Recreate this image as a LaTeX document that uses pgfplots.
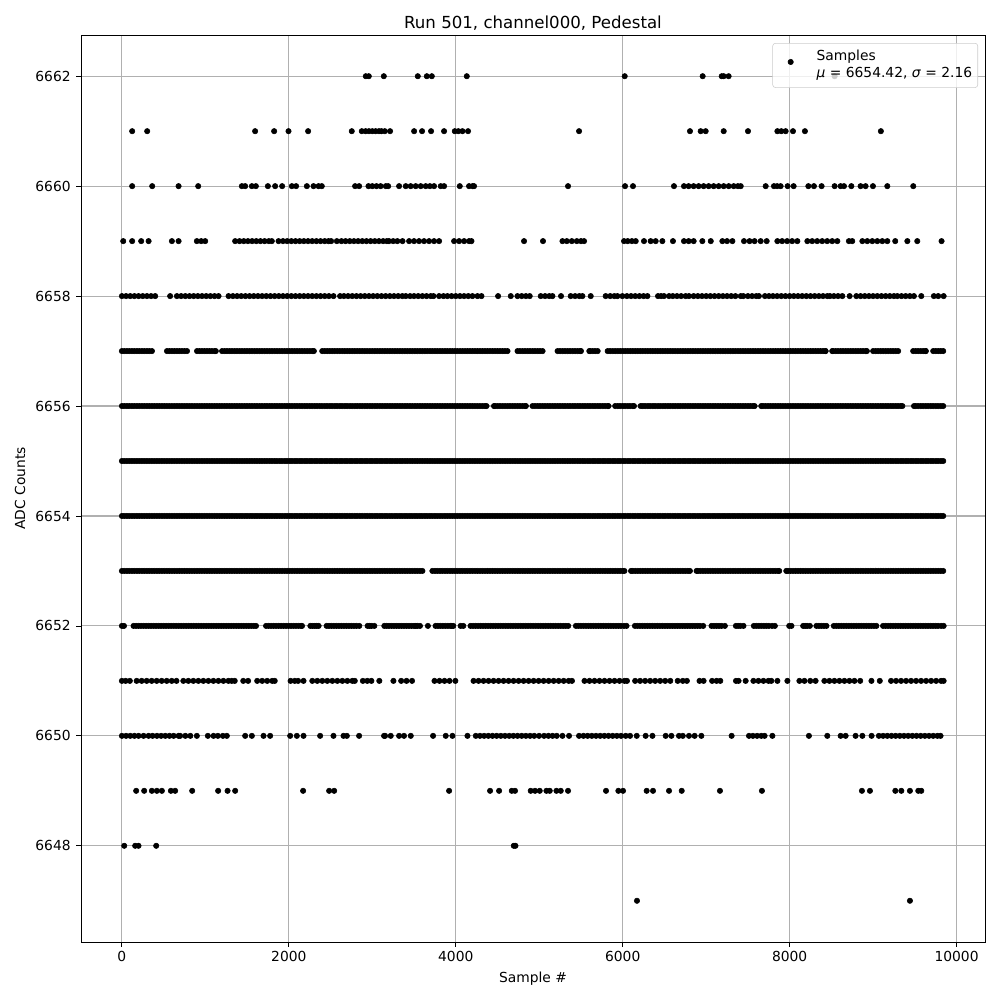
\documentclass[border=0pt]{standalone}
\usepackage{pgfplots}
\pgfplotsset{compat=1.18}
\usepackage{fontspec}
\setmainfont{DejaVu Sans}
\definecolor{gridgray}{HTML}{B0B0B0}
\definecolor{legframe}{HTML}{CCCCCC}
\pgfplotsset{dot/.style={only marks, mark=*, mark size=1.95pt, black, mark options={draw=black, fill=black}, forget plot}}
\begin{document}
\begin{tikzpicture}
\begin{axis}[
  name=ax,
  scale only axis,
  width=653.3pt, height=655.5pt,
  xmin=-490, xmax=10340,
  ymin=6646.25, ymax=6662.75,
  xtick={0,2000,4000,6000,8000,10000},
  ytick={6648,6650,6652,6654,6656,6658,6660,6662},
  scaled ticks=false,
  /pgf/number format/1000 sep={},
  /pgf/number format/assume math mode=true,
  tick align=outside,
  tick pos=left,
  major tick length=3.5pt,
  every tick/.style={black, line width=0.6pt},
  axis line style={black, line width=0.6pt},
  grid=major,
  major grid style={gridgray, line width=0.8pt},
  font=\fontsize{10}{12}\selectfont,
  ticklabel style={font=\fontsize{10}{12}\selectfont},
  xticklabel style={anchor=north, inner sep=0pt, yshift=-3pt},
  yticklabel style={anchor=east, inner sep=0pt, xshift=-3.8pt},
  title={Run 501, channel000, Pedestal},
  title style={font=\fontsize{12}{14}\selectfont, at={(axis description cs:0.5,1.0143)}, anchor=center, yshift=-6.5pt},
  xlabel={Sample \#},
  xlabel style={at={(axis description cs:0.5,-0.0405)}, anchor=center},
  ylabel={ADC Counts},
  ylabel style={at={(axis description cs:-0.0674,0.5)}, anchor=center},
  legend style={at={(axis description cs:1,1)}, anchor=north east, xshift=-5pt, yshift=-5.8pt,
    draw=legframe, rounded corners=2pt, fill=white, fill opacity=0.8, text opacity=1,
    font=\fontsize{10}{12}\selectfont, inner xsep=4pt, inner ysep=4pt, nodes={inner sep=0pt, text depth={}},
    column sep=9.8pt, cells={anchor=west}},
]
\addlegendimage{legend image code/.code={\path[draw=none, fill=none] (0pt,-4pt) rectangle (18pt,4pt); \draw[black, fill=black, fill opacity=1, draw opacity=1, mark=*, mark size=1.95pt, only marks] plot coordinates {(9pt,2.5pt)};}}
\addlegendentry{\begin{tabular}{@{}l@{}}Samples\\\textit{μ} = 6654.42, \textit{σ} = 2.16\end{tabular}}

% 6662
\addplot[dot] coordinates {(2922,6662)(2958,6662)(3138,6662)(3545,6662)(3653,6662)(3713,6662)(4132,6662)(6024,6662)(6958,6662)(7186,6662)(7210,6662)(7269,6662)(8539,6662)};
% 6661
\addplot[dot] coordinates {(123,6661)(303,6661)(1596,6661)(1824,6661)(1996,6661)(2231,6661)(2754,6661)(2874,6661)(2920,6661)(2960,6661)(3000,6661)(3040,6661)(3080,6661)(3110,6661)(3150,6661)(3213,6661)(3501,6661)(3596,6661)(3704,6661)(3860,6661)(3988,6661)(4030,6661)(4080,6661)(4147,6661)(5477,6661)(6806,6661)(6934,6661)(6994,6661)(7210,6661)(7501,6661)(7853,6661)(7900,6661)(7952,6661)(8040,6661)(8183,6661)(9093,6661)};
% 6660
\addplot[dot] coordinates {(123,6660)(363,6660)(679,6660)(914,6660)(1437,6660)(1477,6660)(1557,6660)(1605,6660)(1749,6660)(1836,6660)(1920,6660)(2036,6660)(2087,6660)(2216,6660)(2296,6660)(2356,6660)(2395,6660)(2794,6660)(2842,6660)(2954,6660)(3000,6660)(3050,6660)(3100,6660)(3162,6660)(3190,6660)(3321,6660)(3401,6660)(3460,6660)(3520,6660)(3580,6660)(3640,6660)(3690,6660)(3740,6660)(3820,6660)(3860,6660)(4048,6660)(4159,6660)(4200,6660)(4219,6660)(5345,6660)(6028,6660)(6123,6660)(6614,6660)(6734,6660)(6790,6660)(6850,6660)(6910,6660)(6970,6660)(7030,6660)(7090,6660)(7150,6660)(7210,6660)(7270,6660)(7330,6660)(7380,6660)(7414,6660)(7713,6660)(7812,6660)(7850,6660)(7892,6660)(7976,6660)(8048,6660)(8224,6660)(8291,6660)(8383,6660)(8539,6660)(8611,6660)(8651,6660)(8739,6660)(8850,6660)(8910,6660)(8998,6660)(9170,6660)(9481,6660)};
% 6659
\addplot[dot] coordinates {(16,6659)(123,6659)(231,6659)(320,6659)(599,6659)(679,6659)(898,6659)(950,6659)(998,6659)(1357,6659)(1410,6659)(1460,6659)(1510,6659)(1560,6659)(1610,6659)(1660,6659)(1710,6659)(1760,6659)(1796,6659)(1877,6659)(1930,6659)(1980,6659)(2030,6659)(2080,6659)(2130,6659)(2180,6659)(2230,6659)(2280,6659)(2330,6659)(2380,6659)(2430,6659)(2475,6659)(2507,6659)(2575,6659)(2630,6659)(2680,6659)(2730,6659)(2780,6659)(2830,6659)(2880,6659)(2930,6659)(2980,6659)(3030,6659)(3080,6659)(3130,6659)(3174,6659)(3200,6659)(3250,6659)(3300,6659)(3362,6659)(3441,6659)(3500,6659)(3560,6659)(3620,6659)(3680,6659)(3740,6659)(3800,6659)(3980,6659)(4040,6659)(4100,6659)(4159,6659)(4188,6659)(4818,6659)(5045,6659)(5278,6659)(5330,6659)(5390,6659)(5450,6659)(5500,6659)(5537,6659)(6016,6659)(6060,6659)(6110,6659)(6156,6659)(6255,6659)(6335,6659)(6395,6659)(6475,6659)(6602,6659)(6734,6659)(6790,6659)(6850,6659)(6954,6659)(7055,6659)(7194,6659)(7250,6659)(7314,6659)(7453,6659)(7520,6659)(7580,6659)(7653,6659)(7725,6659)(7853,6659)(7910,6659)(7970,6659)(8030,6659)(8092,6659)(8212,6659)(8270,6659)(8330,6659)(8390,6659)(8450,6659)(8510,6659)(8571,6659)(8710,6659)(8750,6659)(8871,6659)(8930,6659)(8990,6659)(9050,6659)(9110,6659)(9170,6659)(9265,6659)(9410,6659)(9529,6659)(9820,6659)};
% 6658
\addplot[dot] coordinates {(0,6658)(50,6658)(100,6658)(150,6658)(200,6658)(250,6658)(300,6658)(350,6658)(399,6658)(578,6658)(659,6658)(710,6658)(760,6658)(810,6658)(860,6658)(910,6658)(960,6658)(1010,6658)(1060,6658)(1110,6658)(1158,6658)(1278,6658)(1330,6658)(1380,6658)(1430,6658)(1480,6658)(1530,6658)(1580,6658)(1630,6658)(1680,6658)(1730,6658)(1780,6658)(1830,6658)(1880,6658)(1930,6658)(1980,6658)(2030,6658)(2080,6658)(2130,6658)(2180,6658)(2230,6658)(2280,6658)(2330,6658)(2380,6658)(2430,6658)(2480,6658)(2535,6658)(2614,6658)(2660,6658)(2710,6658)(2760,6658)(2810,6658)(2860,6658)(2910,6658)(2960,6658)(3010,6658)(3060,6658)(3110,6658)(3160,6658)(3210,6658)(3260,6658)(3310,6658)(3360,6658)(3401,6658)(3453,6658)(3500,6658)(3550,6658)(3600,6658)(3650,6658)(3700,6658)(3733,6658)(3800,6658)(3853,6658)(3900,6658)(3950,6658)(4000,6658)(4050,6658)(4100,6658)(4150,6658)(4200,6658)(4260,6658)(4308,6658)(4507,6658)(4659,6658)(4739,6658)(4790,6658)(4840,6658)(4886,6658)(5018,6658)(5070,6658)(5120,6658)(5158,6658)(5261,6658)(5377,6658)(5430,6658)(5480,6658)(5517,6658)(5617,6658)(5796,6658)(5850,6658)(5900,6658)(5937,6658)(5996,6658)(6050,6658)(6100,6658)(6150,6658)(6200,6658)(6250,6658)(6296,6658)(6423,6658)(6460,6658)(6495,6658)(6555,6658)(6600,6658)(6650,6658)(6700,6658)(6754,6658)(6794,6658)(6850,6658)(6900,6658)(6950,6658)(7000,6658)(7050,6658)(7100,6658)(7150,6658)(7200,6658)(7250,6658)(7300,6658)(7350,6658)(7414,6658)(7445,6658)(7500,6658)(7550,6658)(7600,6658)(7632,6658)(7704,6658)(7752,6658)(7800,6658)(7850,6658)(7900,6658)(7950,6658)(8000,6658)(8050,6658)(8100,6658)(8150,6658)(8200,6658)(8250,6658)(8300,6658)(8350,6658)(8400,6658)(8451,6658)(8483,6658)(8530,6658)(8580,6658)(8631,6658)(8719,6658)(8799,6658)(8850,6658)(8900,6658)(8950,6658)(9000,6658)(9050,6658)(9100,6658)(9150,6658)(9200,6658)(9249,6658)(9290,6658)(9340,6658)(9390,6658)(9440,6658)(9489,6658)(9577,6658)(9728,6658)(9780,6658)(9845,6658)};
% 6657
\addplot[dot] coordinates {(0,6657)(60,6657)(120,6657)(180,6657)(240,6657)(300,6657)(360,6657)(540,6657)(600,6657)(660,6657)(720,6657)(780,6657)(900,6657)(960,6657)(1020,6657)(1080,6657)(1125,6657)(1200,6657)(1260,6657)(1320,6657)(1380,6657)(1440,6657)(1500,6657)(1560,6657)(1620,6657)(1680,6657)(1740,6657)(1800,6657)(1860,6657)(1920,6657)(1980,6657)(2040,6657)(2100,6657)(2160,6657)(2220,6657)(2280,6657)(2300,6657)(2400,6657)(2460,6657)(2520,6657)(2580,6657)(2640,6657)(2700,6657)(2760,6657)(2820,6657)(2880,6657)(2940,6657)(3000,6657)(3060,6657)(3120,6657)(3180,6657)(3240,6657)(3300,6657)(3360,6657)(3420,6657)(3480,6657)(3540,6657)(3600,6657)(3660,6657)(3720,6657)(3780,6657)(3840,6657)(3900,6657)(3960,6657)(4020,6657)(4080,6657)(4140,6657)(4200,6657)(4260,6657)(4320,6657)(4380,6657)(4440,6657)(4500,6657)(4560,6657)(4620,6657)(4740,6657)(4800,6657)(4860,6657)(4920,6657)(4980,6657)(5040,6657)(5220,6657)(5280,6657)(5340,6657)(5400,6657)(5460,6657)(5500,6657)(5600,6657)(5640,6657)(5700,6657)(5820,6657)(5880,6657)(5940,6657)(6000,6657)(6060,6657)(6120,6657)(6180,6657)(6240,6657)(6300,6657)(6360,6657)(6420,6657)(6480,6657)(6540,6657)(6600,6657)(6660,6657)(6720,6657)(6780,6657)(6840,6657)(6900,6657)(6960,6657)(7020,6657)(7080,6657)(7140,6657)(7200,6657)(7260,6657)(7320,6657)(7380,6657)(7440,6657)(7500,6657)(7560,6657)(7620,6657)(7680,6657)(7740,6657)(7800,6657)(7860,6657)(7920,6657)(7980,6657)(8040,6657)(8100,6657)(8160,6657)(8220,6657)(8280,6657)(8340,6657)(8400,6657)(8430,6657)(8510,6657)(8520,6657)(8580,6657)(8640,6657)(8700,6657)(8760,6657)(8820,6657)(8880,6657)(8925,6657)(9000,6657)(9060,6657)(9120,6657)(9180,6657)(9240,6657)(9300,6657)(9480,6657)(9540,6657)(9600,6657)(9630,6657)(9720,6657)(9780,6657)(9840,6657)};
\addplot[dot] coordinates {(30,6657)(90,6657)(150,6657)(210,6657)(270,6657)(330,6657)(570,6657)(630,6657)(690,6657)(750,6657)(930,6657)(990,6657)(1050,6657)(1110,6657)(1230,6657)(1290,6657)(1350,6657)(1410,6657)(1470,6657)(1530,6657)(1590,6657)(1650,6657)(1710,6657)(1770,6657)(1830,6657)(1890,6657)(1950,6657)(2010,6657)(2070,6657)(2130,6657)(2190,6657)(2250,6657)(2430,6657)(2490,6657)(2550,6657)(2610,6657)(2670,6657)(2730,6657)(2790,6657)(2850,6657)(2910,6657)(2970,6657)(3030,6657)(3090,6657)(3150,6657)(3210,6657)(3270,6657)(3330,6657)(3390,6657)(3450,6657)(3510,6657)(3570,6657)(3630,6657)(3690,6657)(3750,6657)(3810,6657)(3870,6657)(3930,6657)(3990,6657)(4050,6657)(4110,6657)(4170,6657)(4230,6657)(4290,6657)(4350,6657)(4410,6657)(4470,6657)(4530,6657)(4590,6657)(4770,6657)(4830,6657)(4890,6657)(4950,6657)(5010,6657)(5250,6657)(5310,6657)(5370,6657)(5430,6657)(5490,6657)(5610,6657)(5670,6657)(5850,6657)(5910,6657)(5970,6657)(6030,6657)(6090,6657)(6150,6657)(6210,6657)(6270,6657)(6330,6657)(6390,6657)(6450,6657)(6510,6657)(6570,6657)(6630,6657)(6690,6657)(6750,6657)(6810,6657)(6870,6657)(6930,6657)(6990,6657)(7050,6657)(7110,6657)(7170,6657)(7230,6657)(7290,6657)(7350,6657)(7410,6657)(7470,6657)(7530,6657)(7590,6657)(7650,6657)(7710,6657)(7770,6657)(7830,6657)(7890,6657)(7950,6657)(8010,6657)(8070,6657)(8130,6657)(8190,6657)(8250,6657)(8310,6657)(8370,6657)(8430,6657)(8550,6657)(8610,6657)(8670,6657)(8730,6657)(8790,6657)(8850,6657)(8910,6657)(9030,6657)(9090,6657)(9150,6657)(9210,6657)(9270,6657)(9510,6657)(9570,6657)(9630,6657)(9750,6657)(9810,6657)};
% 6656
\addplot[dot] coordinates {(0,6656)(60,6656)(120,6656)(180,6656)(240,6656)(300,6656)(360,6656)(420,6656)(480,6656)(540,6656)(600,6656)(660,6656)(720,6656)(780,6656)(840,6656)(900,6656)(960,6656)(1020,6656)(1080,6656)(1140,6656)(1200,6656)(1260,6656)(1320,6656)(1380,6656)(1440,6656)(1500,6656)(1560,6656)(1620,6656)(1680,6656)(1740,6656)(1800,6656)(1860,6656)(1920,6656)(1980,6656)(2040,6656)(2100,6656)(2160,6656)(2220,6656)(2280,6656)(2340,6656)(2400,6656)(2460,6656)(2520,6656)(2580,6656)(2640,6656)(2700,6656)(2760,6656)(2820,6656)(2880,6656)(2940,6656)(3000,6656)(3060,6656)(3120,6656)(3180,6656)(3240,6656)(3300,6656)(3360,6656)(3420,6656)(3480,6656)(3540,6656)(3600,6656)(3660,6656)(3720,6656)(3780,6656)(3840,6656)(3900,6656)(3960,6656)(4020,6656)(4080,6656)(4140,6656)(4200,6656)(4260,6656)(4320,6656)(4368,6656)(4458,6656)(4500,6656)(4560,6656)(4620,6656)(4680,6656)(4740,6656)(4800,6656)(4840,6656)(4920,6656)(4980,6656)(5040,6656)(5100,6656)(5160,6656)(5220,6656)(5280,6656)(5340,6656)(5400,6656)(5460,6656)(5520,6656)(5580,6656)(5640,6656)(5700,6656)(5760,6656)(5820,6656)(5830,6656)(5910,6656)(5940,6656)(6000,6656)(6060,6656)(6120,6656)(6135,6656)(6215,6656)(6240,6656)(6300,6656)(6360,6656)(6420,6656)(6480,6656)(6540,6656)(6600,6656)(6660,6656)(6720,6656)(6780,6656)(6840,6656)(6900,6656)(6960,6656)(7020,6656)(7080,6656)(7140,6656)(7200,6656)(7260,6656)(7320,6656)(7380,6656)(7440,6656)(7500,6656)(7560,6656)(7580,6656)(7660,6656)(7680,6656)(7740,6656)(7800,6656)(7860,6656)(7920,6656)(7980,6656)(8040,6656)(8100,6656)(8160,6656)(8220,6656)(8280,6656)(8340,6656)(8400,6656)(8460,6656)(8520,6656)(8580,6656)(8640,6656)(8700,6656)(8760,6656)(8820,6656)(8880,6656)(8940,6656)(9000,6656)(9060,6656)(9120,6656)(9180,6656)(9240,6656)(9300,6656)(9350,6656)(9490,6656)(9540,6656)(9600,6656)(9660,6656)(9720,6656)(9780,6656)(9840,6656)};
\addplot[dot] coordinates {(30,6656)(90,6656)(150,6656)(210,6656)(270,6656)(330,6656)(390,6656)(450,6656)(510,6656)(570,6656)(630,6656)(690,6656)(750,6656)(810,6656)(870,6656)(930,6656)(990,6656)(1050,6656)(1110,6656)(1170,6656)(1230,6656)(1290,6656)(1350,6656)(1410,6656)(1470,6656)(1530,6656)(1590,6656)(1650,6656)(1710,6656)(1770,6656)(1830,6656)(1890,6656)(1950,6656)(2010,6656)(2070,6656)(2130,6656)(2190,6656)(2250,6656)(2310,6656)(2370,6656)(2430,6656)(2490,6656)(2550,6656)(2610,6656)(2670,6656)(2730,6656)(2790,6656)(2850,6656)(2910,6656)(2970,6656)(3030,6656)(3090,6656)(3150,6656)(3210,6656)(3270,6656)(3330,6656)(3390,6656)(3450,6656)(3510,6656)(3570,6656)(3630,6656)(3690,6656)(3750,6656)(3810,6656)(3870,6656)(3930,6656)(3990,6656)(4050,6656)(4110,6656)(4170,6656)(4230,6656)(4290,6656)(4350,6656)(4470,6656)(4530,6656)(4590,6656)(4650,6656)(4710,6656)(4770,6656)(4830,6656)(4950,6656)(5010,6656)(5070,6656)(5130,6656)(5190,6656)(5250,6656)(5310,6656)(5370,6656)(5430,6656)(5490,6656)(5550,6656)(5610,6656)(5670,6656)(5730,6656)(5790,6656)(5970,6656)(6030,6656)(6090,6656)(6270,6656)(6330,6656)(6390,6656)(6450,6656)(6510,6656)(6570,6656)(6630,6656)(6690,6656)(6750,6656)(6810,6656)(6870,6656)(6930,6656)(6990,6656)(7050,6656)(7110,6656)(7170,6656)(7230,6656)(7290,6656)(7350,6656)(7410,6656)(7470,6656)(7530,6656)(7710,6656)(7770,6656)(7830,6656)(7890,6656)(7950,6656)(8010,6656)(8070,6656)(8130,6656)(8190,6656)(8250,6656)(8310,6656)(8370,6656)(8430,6656)(8490,6656)(8550,6656)(8610,6656)(8670,6656)(8730,6656)(8790,6656)(8850,6656)(8910,6656)(8970,6656)(9030,6656)(9090,6656)(9150,6656)(9210,6656)(9270,6656)(9330,6656)(9510,6656)(9570,6656)(9630,6656)(9690,6656)(9750,6656)(9810,6656)};
% 6655
\addplot[dot] coordinates {(0,6655)(60,6655)(120,6655)(180,6655)(240,6655)(300,6655)(360,6655)(420,6655)(480,6655)(540,6655)(600,6655)(660,6655)(720,6655)(780,6655)(840,6655)(900,6655)(960,6655)(1020,6655)(1080,6655)(1140,6655)(1200,6655)(1260,6655)(1320,6655)(1380,6655)(1440,6655)(1500,6655)(1560,6655)(1620,6655)(1680,6655)(1740,6655)(1800,6655)(1860,6655)(1920,6655)(1980,6655)(2040,6655)(2100,6655)(2160,6655)(2220,6655)(2280,6655)(2340,6655)(2400,6655)(2460,6655)(2520,6655)(2580,6655)(2640,6655)(2700,6655)(2760,6655)(2820,6655)(2880,6655)(2940,6655)(3000,6655)(3060,6655)(3120,6655)(3180,6655)(3240,6655)(3300,6655)(3360,6655)(3420,6655)(3480,6655)(3540,6655)(3600,6655)(3660,6655)(3720,6655)(3780,6655)(3840,6655)(3900,6655)(3960,6655)(4020,6655)(4080,6655)(4140,6655)(4200,6655)(4260,6655)(4320,6655)(4380,6655)(4440,6655)(4500,6655)(4560,6655)(4620,6655)(4680,6655)(4740,6655)(4800,6655)(4860,6655)(4920,6655)(4980,6655)(5040,6655)(5100,6655)(5160,6655)(5220,6655)(5280,6655)(5340,6655)(5400,6655)(5460,6655)(5520,6655)(5580,6655)(5640,6655)(5700,6655)(5760,6655)(5820,6655)(5880,6655)(5940,6655)(6000,6655)(6060,6655)(6120,6655)(6180,6655)(6240,6655)(6300,6655)(6360,6655)(6420,6655)(6480,6655)(6540,6655)(6600,6655)(6660,6655)(6720,6655)(6780,6655)(6840,6655)(6900,6655)(6960,6655)(7020,6655)(7080,6655)(7140,6655)(7200,6655)(7260,6655)(7320,6655)(7380,6655)(7440,6655)(7500,6655)(7560,6655)(7620,6655)(7680,6655)(7740,6655)(7800,6655)(7860,6655)(7920,6655)(7980,6655)(8040,6655)(8100,6655)(8160,6655)(8220,6655)(8280,6655)(8340,6655)(8400,6655)(8460,6655)(8520,6655)(8580,6655)(8640,6655)(8700,6655)(8760,6655)(8820,6655)(8880,6655)(8940,6655)(9000,6655)(9060,6655)(9120,6655)(9180,6655)(9240,6655)(9300,6655)(9360,6655)(9420,6655)(9480,6655)(9540,6655)(9600,6655)(9660,6655)(9720,6655)(9780,6655)(9840,6655)};
\addplot[dot] coordinates {(30,6655)(90,6655)(150,6655)(210,6655)(270,6655)(330,6655)(390,6655)(450,6655)(510,6655)(570,6655)(630,6655)(690,6655)(750,6655)(810,6655)(870,6655)(930,6655)(990,6655)(1050,6655)(1110,6655)(1170,6655)(1230,6655)(1290,6655)(1350,6655)(1410,6655)(1470,6655)(1530,6655)(1590,6655)(1650,6655)(1710,6655)(1770,6655)(1830,6655)(1890,6655)(1950,6655)(2010,6655)(2070,6655)(2130,6655)(2190,6655)(2250,6655)(2310,6655)(2370,6655)(2430,6655)(2490,6655)(2550,6655)(2610,6655)(2670,6655)(2730,6655)(2790,6655)(2850,6655)(2910,6655)(2970,6655)(3030,6655)(3090,6655)(3150,6655)(3210,6655)(3270,6655)(3330,6655)(3390,6655)(3450,6655)(3510,6655)(3570,6655)(3630,6655)(3690,6655)(3750,6655)(3810,6655)(3870,6655)(3930,6655)(3990,6655)(4050,6655)(4110,6655)(4170,6655)(4230,6655)(4290,6655)(4350,6655)(4410,6655)(4470,6655)(4530,6655)(4590,6655)(4650,6655)(4710,6655)(4770,6655)(4830,6655)(4890,6655)(4950,6655)(5010,6655)(5070,6655)(5130,6655)(5190,6655)(5250,6655)(5310,6655)(5370,6655)(5430,6655)(5490,6655)(5550,6655)(5610,6655)(5670,6655)(5730,6655)(5790,6655)(5850,6655)(5910,6655)(5970,6655)(6030,6655)(6090,6655)(6150,6655)(6210,6655)(6270,6655)(6330,6655)(6390,6655)(6450,6655)(6510,6655)(6570,6655)(6630,6655)(6690,6655)(6750,6655)(6810,6655)(6870,6655)(6930,6655)(6990,6655)(7050,6655)(7110,6655)(7170,6655)(7230,6655)(7290,6655)(7350,6655)(7410,6655)(7470,6655)(7530,6655)(7590,6655)(7650,6655)(7710,6655)(7770,6655)(7830,6655)(7890,6655)(7950,6655)(8010,6655)(8070,6655)(8130,6655)(8190,6655)(8250,6655)(8310,6655)(8370,6655)(8430,6655)(8490,6655)(8550,6655)(8610,6655)(8670,6655)(8730,6655)(8790,6655)(8850,6655)(8910,6655)(8970,6655)(9030,6655)(9090,6655)(9150,6655)(9210,6655)(9270,6655)(9330,6655)(9390,6655)(9450,6655)(9510,6655)(9570,6655)(9630,6655)(9690,6655)(9750,6655)(9810,6655)};
% 6654
\addplot[dot] coordinates {(0,6654)(60,6654)(120,6654)(180,6654)(240,6654)(300,6654)(360,6654)(420,6654)(480,6654)(540,6654)(600,6654)(660,6654)(720,6654)(780,6654)(840,6654)(900,6654)(960,6654)(1020,6654)(1080,6654)(1140,6654)(1200,6654)(1260,6654)(1320,6654)(1380,6654)(1440,6654)(1500,6654)(1560,6654)(1620,6654)(1680,6654)(1740,6654)(1800,6654)(1860,6654)(1920,6654)(1980,6654)(2040,6654)(2100,6654)(2160,6654)(2220,6654)(2280,6654)(2340,6654)(2400,6654)(2460,6654)(2520,6654)(2580,6654)(2640,6654)(2700,6654)(2760,6654)(2820,6654)(2880,6654)(2940,6654)(3000,6654)(3060,6654)(3120,6654)(3180,6654)(3240,6654)(3300,6654)(3360,6654)(3420,6654)(3480,6654)(3540,6654)(3600,6654)(3660,6654)(3720,6654)(3780,6654)(3840,6654)(3900,6654)(3960,6654)(4020,6654)(4080,6654)(4140,6654)(4200,6654)(4260,6654)(4320,6654)(4380,6654)(4440,6654)(4500,6654)(4560,6654)(4620,6654)(4680,6654)(4740,6654)(4800,6654)(4860,6654)(4920,6654)(4980,6654)(5040,6654)(5100,6654)(5160,6654)(5220,6654)(5280,6654)(5340,6654)(5400,6654)(5460,6654)(5520,6654)(5580,6654)(5640,6654)(5700,6654)(5760,6654)(5820,6654)(5880,6654)(5940,6654)(6000,6654)(6060,6654)(6120,6654)(6180,6654)(6240,6654)(6300,6654)(6360,6654)(6420,6654)(6480,6654)(6540,6654)(6600,6654)(6660,6654)(6720,6654)(6780,6654)(6840,6654)(6900,6654)(6960,6654)(7020,6654)(7080,6654)(7140,6654)(7200,6654)(7260,6654)(7320,6654)(7380,6654)(7440,6654)(7500,6654)(7560,6654)(7620,6654)(7680,6654)(7740,6654)(7800,6654)(7860,6654)(7920,6654)(7980,6654)(8040,6654)(8100,6654)(8160,6654)(8220,6654)(8280,6654)(8340,6654)(8400,6654)(8460,6654)(8520,6654)(8580,6654)(8640,6654)(8700,6654)(8760,6654)(8820,6654)(8880,6654)(8940,6654)(9000,6654)(9060,6654)(9120,6654)(9180,6654)(9240,6654)(9300,6654)(9360,6654)(9420,6654)(9480,6654)(9540,6654)(9600,6654)(9660,6654)(9720,6654)(9780,6654)(9840,6654)};
\addplot[dot] coordinates {(30,6654)(90,6654)(150,6654)(210,6654)(270,6654)(330,6654)(390,6654)(450,6654)(510,6654)(570,6654)(630,6654)(690,6654)(750,6654)(810,6654)(870,6654)(930,6654)(990,6654)(1050,6654)(1110,6654)(1170,6654)(1230,6654)(1290,6654)(1350,6654)(1410,6654)(1470,6654)(1530,6654)(1590,6654)(1650,6654)(1710,6654)(1770,6654)(1830,6654)(1890,6654)(1950,6654)(2010,6654)(2070,6654)(2130,6654)(2190,6654)(2250,6654)(2310,6654)(2370,6654)(2430,6654)(2490,6654)(2550,6654)(2610,6654)(2670,6654)(2730,6654)(2790,6654)(2850,6654)(2910,6654)(2970,6654)(3030,6654)(3090,6654)(3150,6654)(3210,6654)(3270,6654)(3330,6654)(3390,6654)(3450,6654)(3510,6654)(3570,6654)(3630,6654)(3690,6654)(3750,6654)(3810,6654)(3870,6654)(3930,6654)(3990,6654)(4050,6654)(4110,6654)(4170,6654)(4230,6654)(4290,6654)(4350,6654)(4410,6654)(4470,6654)(4530,6654)(4590,6654)(4650,6654)(4710,6654)(4770,6654)(4830,6654)(4890,6654)(4950,6654)(5010,6654)(5070,6654)(5130,6654)(5190,6654)(5250,6654)(5310,6654)(5370,6654)(5430,6654)(5490,6654)(5550,6654)(5610,6654)(5670,6654)(5730,6654)(5790,6654)(5850,6654)(5910,6654)(5970,6654)(6030,6654)(6090,6654)(6150,6654)(6210,6654)(6270,6654)(6330,6654)(6390,6654)(6450,6654)(6510,6654)(6570,6654)(6630,6654)(6690,6654)(6750,6654)(6810,6654)(6870,6654)(6930,6654)(6990,6654)(7050,6654)(7110,6654)(7170,6654)(7230,6654)(7290,6654)(7350,6654)(7410,6654)(7470,6654)(7530,6654)(7590,6654)(7650,6654)(7710,6654)(7770,6654)(7830,6654)(7890,6654)(7950,6654)(8010,6654)(8070,6654)(8130,6654)(8190,6654)(8250,6654)(8310,6654)(8370,6654)(8430,6654)(8490,6654)(8550,6654)(8610,6654)(8670,6654)(8730,6654)(8790,6654)(8850,6654)(8910,6654)(8970,6654)(9030,6654)(9090,6654)(9150,6654)(9210,6654)(9270,6654)(9330,6654)(9390,6654)(9450,6654)(9510,6654)(9570,6654)(9630,6654)(9690,6654)(9750,6654)(9810,6654)};
% 6653
\addplot[dot] coordinates {(0,6653)(60,6653)(120,6653)(180,6653)(240,6653)(300,6653)(360,6653)(420,6653)(480,6653)(540,6653)(600,6653)(660,6653)(720,6653)(780,6653)(840,6653)(900,6653)(960,6653)(1020,6653)(1080,6653)(1140,6653)(1200,6653)(1260,6653)(1320,6653)(1380,6653)(1440,6653)(1500,6653)(1560,6653)(1620,6653)(1680,6653)(1740,6653)(1800,6653)(1860,6653)(1920,6653)(1980,6653)(2040,6653)(2100,6653)(2160,6653)(2220,6653)(2280,6653)(2340,6653)(2400,6653)(2460,6653)(2520,6653)(2580,6653)(2640,6653)(2700,6653)(2760,6653)(2820,6653)(2880,6653)(2940,6653)(3000,6653)(3060,6653)(3120,6653)(3180,6653)(3240,6653)(3300,6653)(3360,6653)(3420,6653)(3480,6653)(3540,6653)(3600,6653)(3720,6653)(3780,6653)(3840,6653)(3900,6653)(3960,6653)(4020,6653)(4080,6653)(4140,6653)(4200,6653)(4260,6653)(4320,6653)(4380,6653)(4440,6653)(4500,6653)(4560,6653)(4620,6653)(4680,6653)(4740,6653)(4800,6653)(4860,6653)(4920,6653)(4980,6653)(5040,6653)(5100,6653)(5160,6653)(5220,6653)(5280,6653)(5340,6653)(5400,6653)(5460,6653)(5520,6653)(5580,6653)(5640,6653)(5700,6653)(5760,6653)(5820,6653)(5880,6653)(5940,6653)(6000,6653)(6020,6653)(6100,6653)(6120,6653)(6180,6653)(6240,6653)(6300,6653)(6360,6653)(6420,6653)(6480,6653)(6540,6653)(6600,6653)(6660,6653)(6720,6653)(6780,6653)(6805,6653)(6885,6653)(6900,6653)(6960,6653)(7020,6653)(7080,6653)(7140,6653)(7200,6653)(7260,6653)(7320,6653)(7380,6653)(7440,6653)(7500,6653)(7560,6653)(7620,6653)(7680,6653)(7740,6653)(7800,6653)(7860,6653)(7875,6653)(7960,6653)(7980,6653)(8040,6653)(8100,6653)(8160,6653)(8220,6653)(8280,6653)(8340,6653)(8400,6653)(8460,6653)(8520,6653)(8580,6653)(8640,6653)(8700,6653)(8760,6653)(8820,6653)(8880,6653)(8940,6653)(9000,6653)(9060,6653)(9120,6653)(9180,6653)(9240,6653)(9300,6653)(9360,6653)(9420,6653)(9480,6653)(9540,6653)(9600,6653)(9660,6653)(9720,6653)(9780,6653)(9840,6653)};
\addplot[dot] coordinates {(30,6653)(90,6653)(150,6653)(210,6653)(270,6653)(330,6653)(390,6653)(450,6653)(510,6653)(570,6653)(630,6653)(690,6653)(750,6653)(810,6653)(870,6653)(930,6653)(990,6653)(1050,6653)(1110,6653)(1170,6653)(1230,6653)(1290,6653)(1350,6653)(1410,6653)(1470,6653)(1530,6653)(1590,6653)(1650,6653)(1710,6653)(1770,6653)(1830,6653)(1890,6653)(1950,6653)(2010,6653)(2070,6653)(2130,6653)(2190,6653)(2250,6653)(2310,6653)(2370,6653)(2430,6653)(2490,6653)(2550,6653)(2610,6653)(2670,6653)(2730,6653)(2790,6653)(2850,6653)(2910,6653)(2970,6653)(3030,6653)(3090,6653)(3150,6653)(3210,6653)(3270,6653)(3330,6653)(3390,6653)(3450,6653)(3510,6653)(3570,6653)(3750,6653)(3810,6653)(3870,6653)(3930,6653)(3990,6653)(4050,6653)(4110,6653)(4170,6653)(4230,6653)(4290,6653)(4350,6653)(4410,6653)(4470,6653)(4530,6653)(4590,6653)(4650,6653)(4710,6653)(4770,6653)(4830,6653)(4890,6653)(4950,6653)(5010,6653)(5070,6653)(5130,6653)(5190,6653)(5250,6653)(5310,6653)(5370,6653)(5430,6653)(5490,6653)(5550,6653)(5610,6653)(5670,6653)(5730,6653)(5790,6653)(5850,6653)(5910,6653)(5970,6653)(6150,6653)(6210,6653)(6270,6653)(6330,6653)(6390,6653)(6450,6653)(6510,6653)(6570,6653)(6630,6653)(6690,6653)(6750,6653)(6930,6653)(6990,6653)(7050,6653)(7110,6653)(7170,6653)(7230,6653)(7290,6653)(7350,6653)(7410,6653)(7470,6653)(7530,6653)(7590,6653)(7650,6653)(7710,6653)(7770,6653)(7830,6653)(8010,6653)(8070,6653)(8130,6653)(8190,6653)(8250,6653)(8310,6653)(8370,6653)(8430,6653)(8490,6653)(8550,6653)(8610,6653)(8670,6653)(8730,6653)(8790,6653)(8850,6653)(8910,6653)(8970,6653)(9030,6653)(9090,6653)(9150,6653)(9210,6653)(9270,6653)(9330,6653)(9390,6653)(9450,6653)(9510,6653)(9570,6653)(9630,6653)(9690,6653)(9750,6653)(9810,6653)};
% 6652
\addplot[dot] coordinates {(0,6652)(25,6652)(140,6652)(200,6652)(260,6652)(320,6652)(380,6652)(440,6652)(500,6652)(560,6652)(620,6652)(680,6652)(740,6652)(800,6652)(860,6652)(920,6652)(980,6652)(1040,6652)(1100,6652)(1160,6652)(1220,6652)(1280,6652)(1340,6652)(1400,6652)(1460,6652)(1520,6652)(1580,6652)(1607,6652)(1727,6652)(1787,6652)(1847,6652)(1907,6652)(1967,6652)(2027,6652)(2087,6652)(2147,6652)(2158,6652)(2258,6652)(2310,6652)(2357,6652)(2453,6652)(2510,6652)(2570,6652)(2630,6652)(2690,6652)(2750,6652)(2810,6652)(2844,6652)(2944,6652)(2990,6652)(3024,6652)(3144,6652)(3200,6652)(3260,6652)(3320,6652)(3380,6652)(3440,6652)(3500,6652)(3540,6652)(3571,6652)(3666,6652)(3758,6652)(3815,6652)(3875,6652)(3935,6652)(3970,6652)(4058,6652)(4090,6652)(4177,6652)(4237,6652)(4297,6652)(4357,6652)(4417,6652)(4477,6652)(4537,6652)(4597,6652)(4657,6652)(4717,6652)(4777,6652)(4837,6652)(4897,6652)(4957,6652)(5017,6652)(5077,6652)(5137,6652)(5197,6652)(5257,6652)(5317,6652)(5347,6652)(5439,6652)(5499,6652)(5559,6652)(5619,6652)(5679,6652)(5739,6652)(5799,6652)(5859,6652)(5919,6652)(5979,6652)(6015,6652)(6046,6652)(6146,6652)(6206,6652)(6266,6652)(6326,6652)(6386,6652)(6446,6652)(6506,6652)(6566,6652)(6626,6652)(6686,6652)(6746,6652)(6806,6652)(6866,6652)(6926,6652)(6964,6652)(7064,6652)(7124,6652)(7184,6652)(7224,6652)(7356,6652)(7410,6652)(7447,6652)(7571,6652)(7631,6652)(7691,6652)(7751,6652)(7790,6652)(7823,6652)(7995,6652)(8022,6652)(8162,6652)(8210,6652)(8242,6652)(8321,6652)(8380,6652)(8441,6652)(8529,6652)(8589,6652)(8649,6652)(8709,6652)(8769,6652)(8829,6652)(8889,6652)(8949,6652)(9009,6652)(9039,6652)(9119,6652)(9179,6652)(9239,6652)(9299,6652)(9359,6652)(9419,6652)(9479,6652)(9539,6652)(9599,6652)(9659,6652)(9719,6652)(9779,6652)(9815,6652)(9845,6652)};
\addplot[dot] coordinates {(170,6652)(230,6652)(290,6652)(350,6652)(410,6652)(470,6652)(530,6652)(590,6652)(650,6652)(710,6652)(770,6652)(830,6652)(890,6652)(950,6652)(1010,6652)(1070,6652)(1130,6652)(1190,6652)(1250,6652)(1310,6652)(1370,6652)(1430,6652)(1490,6652)(1550,6652)(1757,6652)(1817,6652)(1877,6652)(1937,6652)(1997,6652)(2057,6652)(2117,6652)(2284,6652)(2333,6652)(2481,6652)(2540,6652)(2600,6652)(2660,6652)(2720,6652)(2780,6652)(2967,6652)(3172,6652)(3230,6652)(3290,6652)(3350,6652)(3410,6652)(3470,6652)(3520,6652)(3786,6652)(3845,6652)(3905,6652)(3952,6652)(4207,6652)(4267,6652)(4327,6652)(4387,6652)(4447,6652)(4507,6652)(4567,6652)(4627,6652)(4687,6652)(4747,6652)(4807,6652)(4867,6652)(4927,6652)(4987,6652)(5047,6652)(5107,6652)(5167,6652)(5227,6652)(5287,6652)(5469,6652)(5529,6652)(5589,6652)(5649,6652)(5709,6652)(5769,6652)(5829,6652)(5889,6652)(5949,6652)(6176,6652)(6236,6652)(6296,6652)(6356,6652)(6416,6652)(6476,6652)(6536,6652)(6596,6652)(6656,6652)(6716,6652)(6776,6652)(6836,6652)(6896,6652)(7094,6652)(7154,6652)(7383,6652)(7601,6652)(7661,6652)(7721,6652)(8186,6652)(8350,6652)(8410,6652)(8559,6652)(8619,6652)(8679,6652)(8739,6652)(8799,6652)(8859,6652)(8919,6652)(8979,6652)(9149,6652)(9209,6652)(9269,6652)(9329,6652)(9389,6652)(9449,6652)(9509,6652)(9569,6652)(9629,6652)(9689,6652)(9749,6652)};
% 6651
\addplot[dot] coordinates {(0,6651)(45,6651)(95,6651)(177,6651)(237,6651)(297,6651)(357,6651)(417,6651)(477,6651)(537,6651)(597,6651)(654,6651)(736,6651)(796,6651)(856,6651)(916,6651)(976,6651)(1036,6651)(1096,6651)(1156,6651)(1216,6651)(1276,6651)(1316,6651)(1352,6651)(1454,6651)(1512,6651)(1621,6651)(1681,6651)(1741,6651)(1801,6651)(1831,6651)(2021,6651)(2071,6651)(2111,6651)(2176,6651)(2281,6651)(2341,6651)(2401,6651)(2461,6651)(2521,6651)(2581,6651)(2641,6651)(2701,6651)(2761,6651)(2790,6651)(2887,6651)(2940,6651)(2989,6651)(3084,6651)(3253,6651)(3346,6651)(3410,6651)(3476,6651)(3745,6651)(3805,6651)(3865,6651)(3925,6651)(3995,6651)(4213,6651)(4273,6651)(4333,6651)(4393,6651)(4453,6651)(4513,6651)(4573,6651)(4633,6651)(4693,6651)(4753,6651)(4813,6651)(4873,6651)(4933,6651)(4993,6651)(5053,6651)(5113,6651)(5173,6651)(5233,6651)(5293,6651)(5353,6651)(5392,6651)(5542,6651)(5602,6651)(5662,6651)(5722,6651)(5782,6651)(5842,6651)(5902,6651)(5962,6651)(6022,6651)(6051,6651)(6149,6651)(6209,6651)(6269,6651)(6329,6651)(6389,6651)(6449,6651)(6509,6651)(6570,6651)(6659,6651)(6720,6651)(6769,6651)(6920,6651)(6969,6651)(7071,6651)(7125,6651)(7169,6651)(7357,6651)(7388,6651)(7473,6651)(7566,6651)(7626,6651)(7686,6651)(7746,6651)(7780,6651)(7853,6651)(7973,6651)(8117,6651)(8177,6651)(8247,6651)(8311,6651)(8416,6651)(8476,6651)(8536,6651)(8596,6651)(8656,6651)(8716,6651)(8776,6651)(8845,6651)(8980,6651)(9080,6651)(9215,6651)(9275,6651)(9335,6651)(9395,6651)(9455,6651)(9515,6651)(9575,6651)(9635,6651)(9695,6651)(9755,6651)(9815,6651)(9845,6651)};
% 6650
\addplot[dot] coordinates {(0,6650)(50,6650)(100,6650)(150,6650)(200,6650)(260,6650)(320,6650)(368,6650)(420,6650)(470,6650)(520,6650)(570,6650)(620,6650)(679,6650)(698,6650)(760,6650)(820,6650)(898,6650)(1030,6650)(1098,6650)(1150,6650)(1210,6650)(1257,6650)(1477,6650)(1557,6650)(1697,6650)(1776,6650)(2016,6650)(2096,6650)(2176,6650)(2375,6650)(2535,6650)(2655,6650)(2695,6650)(2842,6650)(3141,6650)(3153,6650)(3221,6650)(3321,6650)(3380,6650)(3461,6650)(3728,6650)(3880,6650)(3960,6650)(4140,6650)(4240,6650)(4290,6650)(4340,6650)(4390,6650)(4440,6650)(4490,6650)(4540,6650)(4590,6650)(4640,6650)(4690,6650)(4740,6650)(4790,6650)(4840,6650)(4890,6650)(4940,6650)(4998,6650)(5058,6650)(5110,6650)(5160,6650)(5210,6650)(5278,6650)(5357,6650)(5477,6650)(5530,6650)(5580,6650)(5630,6650)(5680,6650)(5730,6650)(5780,6650)(5830,6650)(5880,6650)(5930,6650)(5980,6650)(6036,6650)(6088,6650)(6168,6650)(6275,6650)(6356,6650)(6515,6650)(6583,6650)(6674,6650)(6720,6650)(6794,6650)(6862,6650)(6942,6650)(7305,6650)(7513,6650)(7560,6650)(7610,6650)(7660,6650)(7700,6650)(7793,6650)(8231,6650)(8451,6650)(8611,6650)(8671,6650)(8790,6650)(8871,6650)(8982,6650)(9069,6650)(9120,6650)(9170,6650)(9220,6650)(9270,6650)(9320,6650)(9370,6650)(9420,6650)(9470,6650)(9520,6650)(9570,6650)(9620,6650)(9670,6650)(9720,6650)(9770,6650)(9808,6650)};
% 6649
\addplot[dot] coordinates {(171,6649)(267,6649)(359,6649)(419,6649)(479,6649)(587,6649)(638,6649)(842,6649)(1153,6649)(1266,6649)(1357,6649)(2171,6649)(2483,6649)(2543,6649)(3920,6649)(4411,6649)(4519,6649)(4671,6649)(4710,6649)(4898,6649)(4950,6649)(5006,6649)(5086,6649)(5126,6649)(5206,6649)(5258,6649)(5345,6649)(5800,6649)(5948,6649)(6004,6649)(6287,6649)(6363,6649)(6555,6649)(6707,6649)(7165,6649)(7668,6649)(8866,6649)(8962,6649)(9266,6649)(9338,6649)(9441,6649)(9541,6649)(9577,6649)};
% 6648
\addplot[dot] coordinates {(28,6648)(159,6648)(199,6648)(411,6648)(4695,6648)(4715,6648)};
% 6647
\addplot[dot] coordinates {(6171,6647)(9441,6647)};
\end{axis}
\pgfresetboundingbox
\path ([xshift=-58.54pt,yshift=-41.92pt]ax.south west) rectangle ([xshift=10.84pt,yshift=25.29pt]ax.north east);
\end{tikzpicture}
\end{document}
